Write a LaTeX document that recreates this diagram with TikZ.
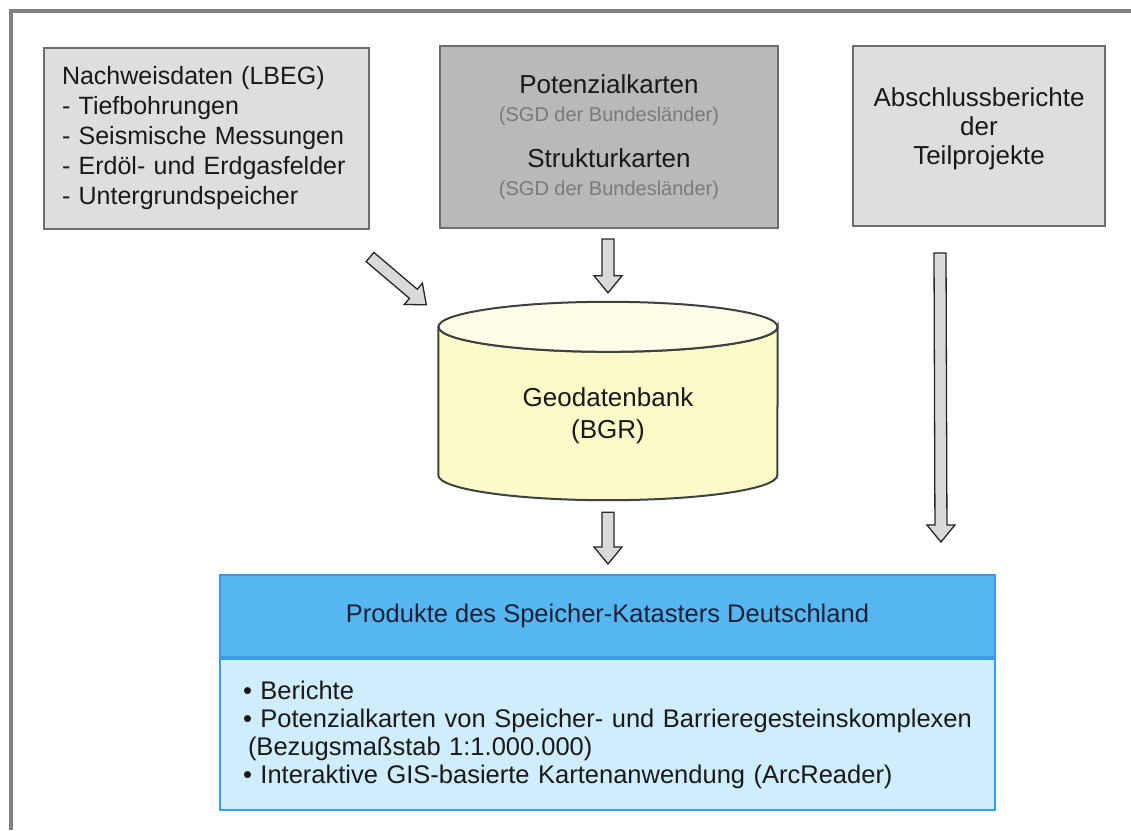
\documentclass[tikz,border=0pt]{standalone}
\usepackage{fontspec}
\setmainfont{Liberation Sans}
\usetikzlibrary{calc,positioning}

\definecolor{boxgray}{HTML}{DEDEDE}
\definecolor{boxdark}{HTML}{B9B9B9}
\definecolor{edgegray}{HTML}{6E6E6E}
\definecolor{framegray}{HTML}{828282}
\definecolor{dbyellow}{HTML}{FBFBC9}
\definecolor{dbtop}{HTML}{FDFDE8}
\definecolor{headblue}{HTML}{55B6F0}
\definecolor{bodyblue}{HTML}{CFEDFC}
\definecolor{edgeblue}{HTML}{3C9BE8}
\definecolor{textnavy}{HTML}{1E2038}
\definecolor{sgdgray}{HTML}{7A7A7A}
\definecolor{arrowfill}{HTML}{DADADA}

\newcommand{\sgdfont}{\fontsize{20}{28}\selectfont\color{sgdgray}}
% block arrow between two named points
\newcommand{\blockarrow}[2]{%
  \coordinate (hb) at ($(#2)!17pt!(#1)$);
  \draw[fatarrow] ($(#1)!6pt!90:(#2)$) -- ($(hb)!6pt!90:(#2)$) -- ($(hb)!14pt!90:(#2)$) -- (#2)
    -- ($(hb)!14pt!-90:(#2)$) -- ($(hb)!6pt!-90:(#2)$) -- ($(#1)!6pt!-90:(#2)$) -- cycle;}

\begin{document}
\begin{tikzpicture}[x=1pt,y=-1pt,
  greybox/.style={draw=edgegray,line width=2pt,fill=boxgray,inner sep=0pt},
  boxfont/.style={font=\fontsize{26}{30}\selectfont,text=black!90},
  fatarrow/.style={draw=black!85,line width=1.3pt,fill=arrowfill,line join=miter},
  dbline/.style={draw=black!75,line width=2pt}]
\useasboundingbox (0,0) rectangle (1131,830);
\draw[framegray,line width=3.5pt] (11,830) -- (11,11) -- (1131,11);

\node[greybox,boxfont,align=left,text width=305pt,inner xsep=10pt,minimum height=181pt,font=\fontsize{25}{30}\selectfont] (nach) at (206.5,138.5)
  {\hspace*{8pt}Nachweisdaten (LBEG)\\\hspace*{8pt}- Tiefbohrungen\\\hspace*{8pt}- Seismische Messungen\\\hspace*{8pt}- Erdöl- und Erdgasfelder\\\hspace*{8pt}- Untergrundspeicher};
\node[greybox,boxfont,fill=boxdark,align=center,minimum width=338pt,minimum height=182pt,font=\fontsize{26}{28}\selectfont] (pot) at (609,137)
  {Potenzialkarten\\{\sgdfont (SGD der Bundesländer)}\\[18pt]Strukturkarten\\{\sgdfont (SGD der Bundesländer)}};
\node[greybox,minimum width=252pt,minimum height=180pt] (abs) at (979,136) {};
\node[boxfont,align=center,font=\fontsize{26}{29}\selectfont] (abstext) at ($(abs.center)+(0,-7)$)
  {Abschlussberichte\\der\\Teilprojekte};

% database
\node[minimum width=339pt,minimum height=198pt,inner sep=0pt] (db) at (608,401) {};
\draw[dbline,fill=dbyellow] ($(db.north west)+(0,25)$) -- ($(db.south west)+(0,-25)$)
  arc[start angle=180,end angle=360,x radius=169.5pt,y radius=25pt]
  -- ($(db.north east)+(0,25)$) arc[start angle=0,end angle=-180,x radius=169.5pt,y radius=25pt] -- cycle;
\draw[dbline,fill=dbtop] ($(db.north)+(0,25)$) ellipse[x radius=169.5pt,y radius=25pt];
\node[boxfont,align=center,font=\fontsize{26}{32}\selectfont] (dbtext) at ($(db.center)+(0,15)$) {Geodatenbank\\(BGR)};

% products
\node[draw=edgeblue,line width=2pt,fill=headblue,minimum width=775pt,minimum height=82pt,inner sep=0pt,
  font=\fontsize{25.5}{30}\selectfont,text=textnavy] (prodhead) at (607.5,616)
  {Produkte des Speicher-Katasters Deutschland};
\node[draw=edgeblue,line width=2pt,fill=bodyblue,text width=729pt,inner xsep=23pt,inner ysep=0pt,minimum height=151pt,
  align=left,font=\fontsize{25.5}{28}\selectfont,text=black!90,below=0pt of prodhead] (prodbody)
  {• Berichte\\• Potenzialkarten von Speicher- und Barrieregesteinskomplexen\\\hspace*{5pt}(Bezugsmaßstab 1:1.000.000)\\• Interaktive GIS-basierte Kartenanwendung (ArcReader)};

% arrows
\coordinate (nachout) at ($(nach.south east)+(0,27)$);
\coordinate (dbinl) at ($(db.north west)+(-12,3)$);
\coordinate (potout) at ($(pot.south -| db.north)+(0,10)$);
\coordinate (dbin) at ($(db.north)+(0,-9)$);
\coordinate (dbout) at ($(db.south)+(0,12)$);
\coordinate (prodin) at ($(prodhead.north -| db.south)+(0,-10)$);
\coordinate (absout) at ($(abs.south)+(-39,26)$);
\coordinate (prodinr) at ($(prodhead.north east)+(-55,-32)$);
\blockarrow{nachout}{dbinl}
\blockarrow{potout}{dbin}
\blockarrow{dbout}{prodin}
\blockarrow{absout}{prodinr}
\end{tikzpicture}
\end{document}
